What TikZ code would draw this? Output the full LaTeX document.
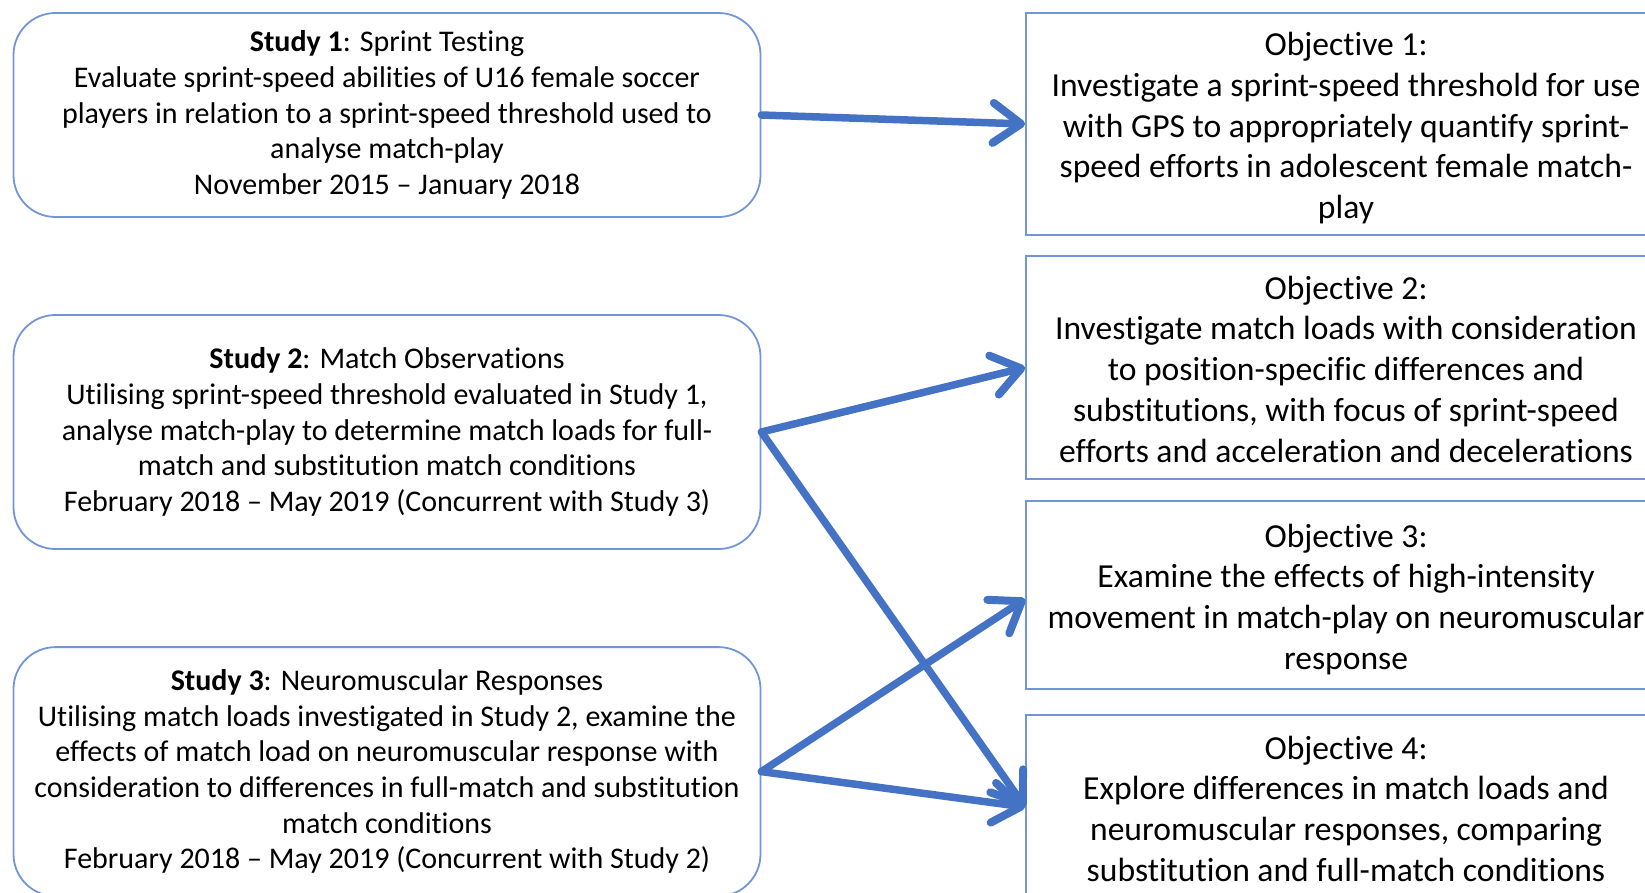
\documentclass[tikz,border=0pt]{standalone}
\usepackage{fontspec}
\setmainfont[Ligatures={NoCommon}]{Carlito}
\usetikzlibrary{arrows.meta}
\definecolor{arrblue}{HTML}{4472C4}
\definecolor{boxblue}{HTML}{7196D8}
\newcommand{\objtext}[1]{\raisebox{-5pt}[\height][\depth]{\begin{tabular}{@{}c@{}}#1\end{tabular}}}
\begin{document}
\begin{tikzpicture}[x=1pt,y=-1pt,
  studybox/.style={draw=boxblue, line width=1.8pt, rounded corners=42pt, minimum width=747pt, inner sep=0pt, align=center, font=\fontsize{30}{35.7}\selectfont},
  objbox/.style={draw=boxblue, line width=1.8pt, minimum width=640pt, inner sep=0pt, font=\fontsize{33.6}{40.7}\selectfont},
  arr/.style={draw=arrblue, line width=7.5pt, line cap=round, line join=round, -{Straight Barb[length=28pt,width=40pt,line width=8pt,line cap=round,line join=round]}}]
\useasboundingbox (0,0) rectangle (1645,892);
\clip (0,0) rectangle (1645,892);
\node[studybox, minimum height=204pt] (s1) at (387,115) {\textbf{Study 1}: Sprint Testing\\Evaluate sprint-speed abilities of U16 female soccer\\players in relation to a sprint-speed threshold used to\\analyse match-play\\November 2015 – January 2018};
\node[studybox, minimum height=234pt] (s2) at (387,432) {\textbf{Study 2}: Match Observations\\Utilising sprint-speed threshold evaluated in Study 1,\\analyse match-play to determine match loads for full-\\match and substitution match conditions\\February 2018 – May 2019 (Concurrent with Study 3)};
\node[studybox, minimum height=249pt] (s3) at (387,771.6) {\textbf{Study 3}: Neuromuscular Responses\\Utilising match loads investigated in Study 2, examine the\\effects of match load on neuromuscular response with\\consideration to differences in full-match and substitution\\match conditions\\February 2018 – May 2019 (Concurrent with Study 2)};
\node[objbox, minimum height=222pt] (o1) at (1346,124) {\objtext{Objective 1:\\Investigate a sprint-speed threshold for use\\with GPS to appropriately quantify sprint-\\speed efforts in adolescent female match-\\play}};
\node[objbox, minimum height=223pt] (o2) at (1346,367.5) {\objtext{Objective 2:\\Investigate match loads with consideration\\to position-specific differences and\\substitutions, with focus of sprint-speed\\efforts and acceleration and decelerations}};
\node[objbox, minimum height=188pt] (o3) at (1346,595) {\objtext{Objective 3:\\Examine the effects of high-intensity\\movement in match-play on neuromuscular\\response}};
\node[objbox, minimum height=184pt] (o4) at (1346,807) {\objtext{Objective 4:\\Explore differences in match loads and\\neuromuscular responses, comparing\\substitution and full-match conditions}};
\draw[arr] (s1.east) -- (o1.west);
\draw[arr] (s2.east) -- (o2.west);
\draw[arr] (s2.east) -- (o4.west);
\draw[arr] (s3.east) -- ([yshift=-4pt]o3.west);
\draw[arr] (s3.east) -- (o4.west);
\end{tikzpicture}
\end{document}
